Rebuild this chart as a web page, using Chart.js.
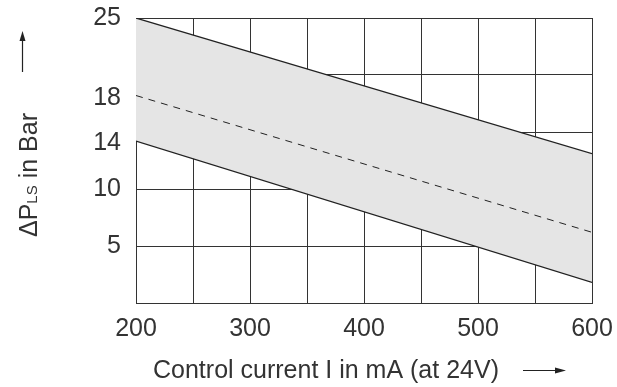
<!DOCTYPE html>
<html>
<head>
<meta charset="utf-8">
<script src="https://cdn.jsdelivr.net/npm/chart.js@4"></script>
<style>
  html, body { margin: 0; padding: 0; background: #fff; }
  #wrap { position: relative; width: 617px; height: 387px; }
</style>
</head>
<body>
<div id="wrap"><canvas id="myChart" width="617" height="387"></canvas></div>
<script>
// control current (mA) at the two ends of each band line
const currents = [200, 600]
// pressure in bar
const upperBand = [25, 13.1]
const middleLine = [18.2, 6.2]
const lowerBand = [14.2, 1.8]

const xTicks = [200, 250, 300, 350, 400, 450, 500, 550, 600]
const xLabels = [200, 300, 400, 500, 600]
const yGrid = [0, 5, 10, 15, 20, 25]
const yLabels = [5, 10, 14, 18, 25]

const toPoints = (ys) => currents.map((x, i) => ({ x: x, y: ys[i] }))

const FONT = "'Liberation Sans', Arial, sans-serif"
const TEXT = '#333'
const GRID = '#333'

// axis titles with arrows (subscript needs manual drawing)
const axisTitles = {
  id: 'axisTitles',
  afterDraw(chart) {
    const ctx = chart.ctx
    ctx.save()
    ctx.fillStyle = TEXT
    ctx.strokeStyle = '#222'
    ctx.lineWidth = 1.2

    // x title
    ctx.font = '25px ' + FONT
    ctx.textBaseline = 'alphabetic'
    ctx.textAlign = 'left'
    const xt = 'Control current I in mA (at 24V)'
    ctx.fillText(xt, 153, 378)
    ctx.beginPath()
    ctx.moveTo(523, 370.5)
    ctx.lineTo(558, 370.5)
    ctx.stroke()
    ctx.beginPath()
    ctx.moveTo(566, 370.5)
    ctx.lineTo(555, 367.5)
    ctx.lineTo(555, 373.5)
    ctx.closePath()
    ctx.fillStyle = '#222'
    ctx.fill()

    // y title, rotated
    ctx.fillStyle = TEXT
    ctx.translate(37, 237)
    ctx.rotate(-Math.PI / 2)
    let x = 0
    ctx.font = '25px ' + FONT
    ctx.fillText('\u0394P', x, 0)
    x += ctx.measureText('\u0394P').width
    ctx.font = '15px ' + FONT
    ctx.fillText('LS', x, 0)
    x += ctx.measureText('LS').width
    ctx.font = '25px ' + FONT
    ctx.fillText(' in Bar', x, 0)
    ctx.restore()

    // up arrow
    ctx.save()
    ctx.strokeStyle = '#222'
    ctx.fillStyle = '#222'
    ctx.lineWidth = 1.2
    ctx.beginPath()
    ctx.moveTo(22.5, 72)
    ctx.lineTo(22.5, 38)
    ctx.stroke()
    ctx.beginPath()
    ctx.moveTo(22.5, 31)
    ctx.lineTo(19.5, 41)
    ctx.lineTo(25.5, 41)
    ctx.closePath()
    ctx.fill()
    ctx.restore()
  }
}

const myChart = new Chart(document.querySelector('#myChart'), {
  type: 'line',
  data: {
    datasets: [
      {
        label: 'upper',
        data: toPoints(upperBand),
        borderColor: '#222',
        borderWidth: 1.2,
        pointRadius: 0,
        fill: 2,
        backgroundColor: '#e5e5e5',
        tension: 0
      },
      {
        label: 'middle',
        data: toPoints(middleLine),
        borderColor: '#222',
        borderWidth: 1,
        borderDash: [7, 6],
        pointRadius: 0,
        fill: false,
        tension: 0
      },
      {
        label: 'lower',
        data: toPoints(lowerBand),
        borderColor: '#222',
        borderWidth: 1.2,
        pointRadius: 0,
        fill: false,
        tension: 0
      }
    ]
  },
  options: {
    responsive: false,
    animation: false,
    layout: { padding: { left: 0, top: 18, right: 25, bottom: 0 } },
    plugins: {
      legend: { display: false },
      tooltip: { enabled: false },
      filler: { drawTime: 'beforeDatasetsDraw' }
    },
    scales: {
      x: {
        type: 'linear',
        min: 200,
        max: 600,
        afterBuildTicks: (axis) => { axis.ticks = xTicks.map(v => ({ value: v })) },
        afterFit: (scale) => {
          scale.height = 84
          scale.paddingLeft = 0
          scale.paddingRight = 0
        },
        border: { color: GRID, width: 1 },
        grid: { color: GRID, lineWidth: 1, drawTicks: false },
        ticks: {
          padding: 11,
          color: TEXT,
          font: { family: FONT, size: 25 },
          maxRotation: 0,
          autoSkip: false,
          callback: (v) => xLabels.includes(v) ? String(v) : ''
        }
      },
      y: {
        type: 'linear',
        min: 0,
        max: 25,
        afterBuildTicks: (axis) => {
          const all = [...new Set([...yGrid, ...yLabels])].sort((a, b) => a - b)
          axis.ticks = all.map(v => ({ value: v }))
        },
        afterFit: (scale) => {
          scale.width = 136
          scale.paddingTop = 0
          scale.paddingBottom = 0
        },
        border: { color: GRID, width: 1 },
        grid: {
          drawTicks: false,
          lineWidth: 1,
          color: (c) => yGrid.includes(c.tick.value) ? GRID : 'rgba(0,0,0,0)'
        },
        ticks: {
          padding: 15,
          color: TEXT,
          font: { family: FONT, size: 25 },
          autoSkip: false,
          callback: (v) => yLabels.includes(v) ? String(v) : ''
        }
      }
    }
  },
  plugins: [axisTitles]
})
</script>
</body>
</html>
